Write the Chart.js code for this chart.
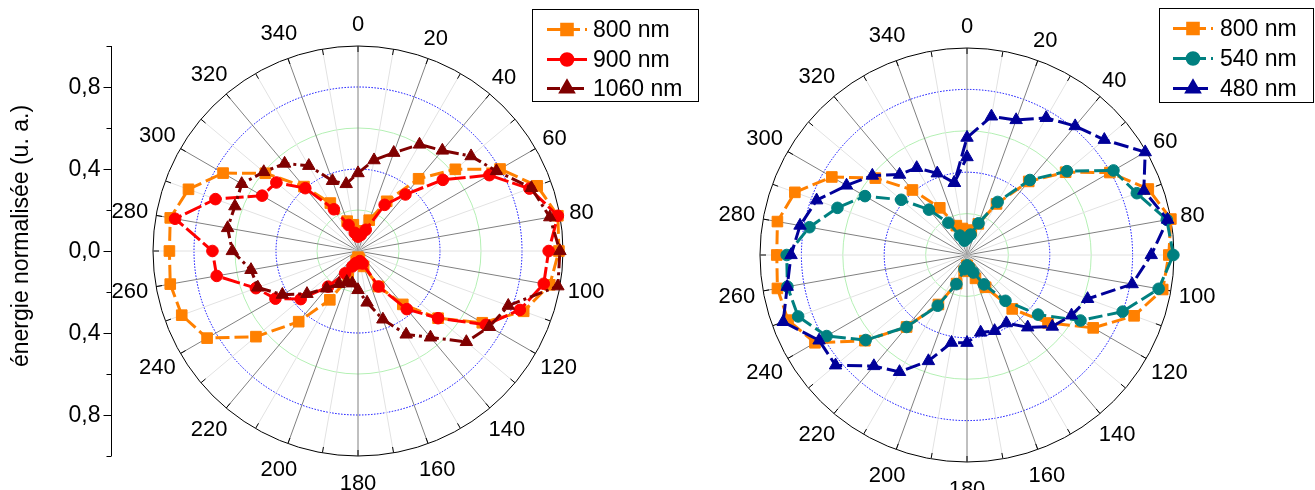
<!DOCTYPE html>
<html>
<head>
<meta charset="utf-8">
<script src="https://cdn.jsdelivr.net/npm/chart.js@4.4.1/dist/chart.umd.min.js"></script>
<style>
  html, body { margin: 0; padding: 0; background: #fff; width: 1315px; height: 490px; overflow: hidden; }
  #leftBox  { position: absolute; left: 0;     top: 0; width: 710px; height: 490px; }
  #rightBox { position: absolute; left: 710px; top: 0; width: 605px; height: 490px; }
</style>
</head>
<body>
<div id="leftBox"><canvas id="leftChart" width="710" height="490"></canvas></div>
<div id="rightBox"><canvas id="rightChart" width="605" height="490"></canvas></div>
<script>
const FONT = '"Liberation Sans", Arial, Helvetica, sans-serif';

// angle categories (degrees, clockwise from top)
const angles = [0, 10, 20, 30, 40, 50, 60, 70, 80, 90, 100, 110, 120, 130, 140, 150, 160, 170,
                180, 190, 200, 210, 220, 230, 240, 250, 260, 270, 280, 290, 300, 310, 320, 330, 340, 350];
const angleLabels = [0, 20, 40, 60, 80, 100, 120, 140, 160, 180, 200, 220, 240, 260, 280, 300, 320, 340];

// left radial axis
const axisTicks = [1.0, 0.8, 0.6, 0.4, 0.2, 0.0, -0.2, -0.4, -0.6, -0.8, -1.0];
const axisLabels = [0.8, 0.4, 0.0, -0.4, -0.8];
const axisTitle = "énergie normalisée (u. a.)";

// left plot
const left800  = [0.08, 0.10, 0.16, 0.28, 0.46, 0.62, 0.80, 0.93, 0.99, 0.98, 0.95, 0.86, 0.70, 0.51, 0.34, 0.20, 0.08, 0.04,
                  0.03, 0.05, 0.14, 0.275, 0.45, 0.65, 0.85, 0.915, 0.93, 0.92, 0.93, 0.88, 0.76, 0.59, 0.41, 0.27, 0.155, 0.13];
const left900  = [0.07, 0.08, 0.11, 0.26, 0.36, 0.54, 0.74, 0.89, 0.99, 0.93, 0.92, 0.84, 0.72, 0.51, 0.37, 0.20, 0.065, 0.05,
                  0.06, 0.06, 0.08, 0.126, 0.227, 0.365, 0.465, 0.53, 0.70, 0.71, 0.906, 0.74, 0.54, 0.52, 0.40, 0.235, 0.135, 0.09];
const left1060 = [0.38, 0.45, 0.51, 0.60, 0.64, 0.72, 0.78, 0.90, 0.95, 0.985, 0.99, 0.78, 0.74, 0.69, 0.55, 0.47, 0.355, 0.255,
                  0.19, 0.16, 0.16, 0.185, 0.238, 0.325, 0.426, 0.52, 0.53, 0.613, 0.646, 0.639, 0.655, 0.60, 0.557, 0.48, 0.364, 0.332];

// right plot
const right800 = [0.12, 0.12, 0.16, 0.285, 0.464, 0.622, 0.797, 0.932, 1.0, 0.975, 0.96, 0.859, 0.704, 0.511, 0.34, 0.18, 0.12, 0.07,
                  0.05, 0.08, 0.147, 0.276, 0.454, 0.644, 0.848, 0.92, 0.93, 0.919, 0.93, 0.885, 0.754, 0.578, 0.41, 0.263, 0.151, 0.13];
const right540 = [0.08, 0.10, 0.163, 0.296, 0.473, 0.63, 0.817, 0.873, 0.98, 0.997, 0.94, 0.80, 0.633, 0.448, 0.289, 0.164, 0.09, 0.06,
                  0.05, 0.07, 0.15, 0.283, 0.454, 0.639, 0.783, 0.868, 0.881, 0.871, 0.773, 0.666, 0.569, 0.415, 0.286, 0.18, 0.10, 0.07];
const right480 = [0.567, 0.68, 0.694, 0.765, 0.813, 0.866, 0.994, 0.909, 0.984, 0.89, 0.81, 0.62, 0.583, 0.538, 0.456, 0.38, 0.39, 0.38,
                  0.424, 0.43, 0.545, 0.652, 0.70, 0.829, 0.825, 0.945, 0.882, 0.85, 0.819, 0.773, 0.672, 0.597, 0.507, 0.486, 0.42, 0.354];
const right480at360 = 0.473;   // second measurement at 0/360 deg

function series(label, data, color, shape, radius, dash, order) {
  return {
    label, data, order,
    borderColor: color, backgroundColor: color,
    pointBackgroundColor: color, pointBorderColor: color,
    pointStyle: shape, pointRadius: radius, pointBorderWidth: 1,
    borderWidth: 3, borderDash: dash, fill: false, tension: 0
  };
}

function gridLevel(c) { return Math.round(c.tick.value * 10); }

function radialScale() {
  return {
    min: 0, max: 1,
    ticks: { stepSize: 0.2, display: false },
    pointLabels: { display: false },
    angleLines: { color: c => c.index % 2 === 0 ? "#808080" : "#e2e2e2", lineWidth: 1 },
    grid: {
      circular: true, lineWidth: 1,
      color: c => { const v = gridLevel(c); return v === 10 ? "#000" : (v % 4 === 0 ? "#0000ff" : "#b4f0b4"); }
    },
    border: { dash: c => { const v = gridLevel(c); return (v !== 10 && v % 4 === 0) ? [1.5, 1.5] : []; } }
  };
}

const deco = {
  id: "deco",
  beforeDatasetsDraw(chart) {
    const r = chart.scales.r, ctx = chart.ctx, R = r.drawingArea;
    ctx.save();
    ctx.strokeStyle = "#000"; ctx.lineWidth = 1;
    angles.forEach((a, i) => {
      const p0 = r.getPointPosition(i, R - 6), p1 = r.getPointPosition(i, R);
      ctx.beginPath(); ctx.moveTo(p0.x, p0.y); ctx.lineTo(p1.x, p1.y); ctx.stroke();
    });
    ctx.restore();
  },
  afterDraw(chart, args, opts) {
    const r = chart.scales.r, ctx = chart.ctx, R = r.drawingArea;
    ctx.save();
    ctx.fillStyle = "#000";
    ctx.font = "22px " + FONT;
    ctx.textAlign = "center"; ctx.textBaseline = "middle";
    angles.forEach((a, i) => {
      if (!angleLabels.includes(a)) return;
      const txt = String(a);
      const w = ctx.measureText(txt).width;
      const p = r.getPointPosition(i, R + 12 + Math.max(w * 0.4, 10));
      ctx.fillText(txt, p.x, p.y + 1);
    });

    if (opts.axis) {
      const x = opts.axis.x;
      ctx.strokeStyle = "#000"; ctx.lineWidth = 1;
      ctx.beginPath(); ctx.moveTo(x, r.yCenter - R); ctx.lineTo(x, r.yCenter + R); ctx.stroke();
      const yOf = v => r.yCenter - Math.sign(v) * r.getDistanceFromCenterForValue(Math.abs(v));
      axisTicks.forEach(v => {
        const y = Math.round(yOf(v)) + 0.5;
        const major = axisLabels.some(l => Math.abs(l - v) < 1e-6);
        ctx.beginPath(); ctx.moveTo(x - (major ? 8 : 5), y); ctx.lineTo(x, y); ctx.stroke();
      });
      ctx.font = "23px " + FONT;
      ctx.textAlign = "right";
      axisLabels.forEach(v => {
        ctx.fillText(Math.abs(v).toFixed(1).replace(".", ","), x - 11, yOf(v) + 1);
      });
      ctx.save();
      ctx.translate(opts.axis.titleX, opts.axis.titleY);
      ctx.rotate(-Math.PI / 2);
      ctx.textAlign = "center";
      ctx.fillText(axisTitle, 0, 0);
      ctx.restore();
    }

    const b = opts.legend;
    ctx.strokeStyle = "#000"; ctx.lineWidth = 1;
    ctx.strokeRect(b.x, b.y, b.w, b.h);
    ctx.font = "23px " + FONT;
    ctx.textAlign = "left";
    chart.data.datasets.filter(d => !d.noLegend).forEach((d, i) => {
      const y = b.rows[i];
      ctx.save();
      ctx.strokeStyle = d.borderColor; ctx.lineWidth = d.borderWidth;
      ctx.setLineDash(d.borderDash || []);
      ctx.beginPath(); ctx.moveTo(b.lx, y); ctx.lineTo(b.lx + 40, y); ctx.stroke();
      ctx.setLineDash([]);
      ctx.fillStyle = d.pointBackgroundColor; ctx.strokeStyle = d.pointBorderColor;
      Chart.helpers.drawPoint(ctx, { pointStyle: d.pointStyle, radius: d.pointRadius, borderWidth: 1, rotation: 0 }, b.lx + 20, y);
      ctx.restore();
      ctx.fillText(d.label, b.tx, y + 1);
    });
    ctx.restore();
  }
};

function makeChart(id, datasets, padding, decoOpts) {
  return new Chart(document.getElementById(id), {
    type: "radar",
    data: { labels: angles, datasets },
    options: {
      responsive: false, animation: false, events: [],
      layout: { padding },
      plugins: { legend: { display: false }, tooltip: { enabled: false }, deco: decoOpts },
      scales: { r: radialScale() }
    },
    plugins: [deco]
  });
}

makeChart("leftChart", [
  series("800 nm", left800, "#ff8000", "rect", 7.5, [14, 5], 3),
  series("900 nm", left900, "#ff0000", "circle", 5.8, [18, 4], 2),
  series("1060 nm", left1060, "#800000", "triangle", 7.2, [13, 4, 3, 4], 1)
], { left: 153, top: 46, right: 147, bottom: 34 }, {
  axis: { x: 111.5, titleX: 22, titleY: 236 },
  legend: { x: 532.5, y: 9.5, w: 166, h: 92, rows: [29.5, 59.5, 88.5], lx: 547, tx: 593 }
});

// 480 nm: hide the closing segment, a second piece joins 350 deg to the 360 deg point
const s480 = series("480 nm", right480, "#000099", "triangle", 7.2, [15, 5], 1);
s480.segment = { borderColor: c => (c.p0DataIndex === angles.length - 1 && c.p1DataIndex === 0) ? "rgba(0,0,0,0)" : undefined };
const s480end = series("480 nm", angles.map((a, i) => i === 0 ? right480at360 : (i === angles.length - 1 ? right480[i] : null)),
                       "#000099", "triangle", 7.2, [15, 5], 1);
s480end.noLegend = true;

makeChart("rightChart", [
  series("800 nm", right800, "#ff8000", "rect", 7.5, [14, 5], 3),
  series("540 nm", right540, "#008080", "circle", 5.8, [14, 5], 2),
  s480, s480end
], { left: 50, top: 48, right: 141, bottom: 28 }, {
  legend: { x: 449.5, y: 8.5, w: 154, h: 94, rows: [28.5, 58.5, 88.5], lx: 463, tx: 510 }
});
</script>
</body>
</html>
